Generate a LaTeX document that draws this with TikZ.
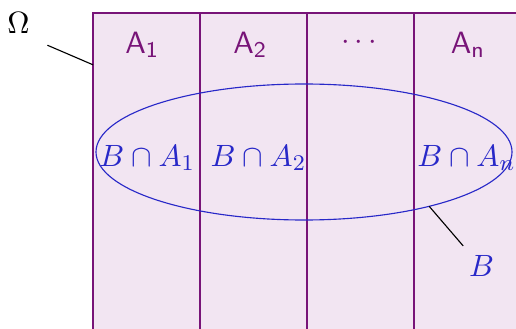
\documentclass[tikz,border=0pt]{standalone}
\usepackage{amsmath,amssymb}
\usepackage{tikz}
\usetikzlibrary{calc}
\definecolor{partfill}{RGB}{242, 229, 242}
\definecolor{partline}{RGB}{120, 20, 120}
\definecolor{setblue}{RGB}{40, 40, 200}

\begin{document}
\begin{tikzpicture}[every node/.style={font=\fontsize{10.8}{13}\selectfont},
    partlabel/.style={text=partline},
    cutlabel/.style={text=setblue}]
    \useasboundingbox (0, 0) rectangle (6.45, 4.1);

    % the partition of Omega
    \draw[fill=partfill, draw=partline] (1.1625, -0.2) rectangle (6.5125, 3.9375);
    \foreach \x in {2.5, 3.8375, 5.175}
        \draw[partline] (\x, -0.2) -- (\x, 3.9375);

    \node[partlabel] (a1) at (1.78, 3.5375) {$\mathsf{A_1}$};
    \node[partlabel] (a2) at (3.13, 3.5375) {$\mathsf{A_2}$};
    \node[partlabel] (dots) at (4.52, 3.57) {$\cdots$};
    \node[partlabel] (an) at (5.85, 3.5375) {$\mathsf{A_n}$};

    % the event B
    \coordinate (bc) at (3.8, 2.2);
    \draw[setblue] (bc) ellipse (2.6 and 0.85);
    \node[cutlabel] (ba1) at (1.84, 2.125) {$B\cap A_1$};
    \node[cutlabel] (ba2) at (3.23, 2.125) {$B\cap A_2$};
    \node[cutlabel] (ban) at (5.83, 2.125) {$B\cap A_n$};

    % labels with pointers
    \node (omega) at (0.23, 3.81) {$\Omega$};
    \coordinate (omegaedge) at (1.1625, 3.29);
    \draw ($(omega.south east)+(0.1,-0.02)$) -- (omegaedge);

    \node[cutlabel] (b) at (6.02, 0.77) {$B$};
    \coordinate (bedge) at ($(bc)+(-53:2.6 and 0.85)$);
    \draw ($(b.north west)+(0.05,0)$) -- (bedge);
\end{tikzpicture}
\end{document}
